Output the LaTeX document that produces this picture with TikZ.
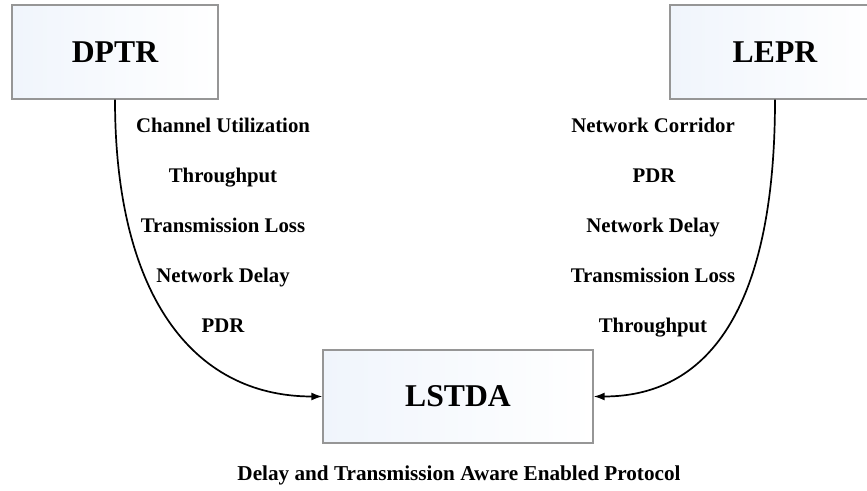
\documentclass[tikz,border=0pt]{standalone}
\usepackage{fontspec}
\setmainfont{Liberation Serif}
\usetikzlibrary{arrows.meta}
\begin{document}
\begin{tikzpicture}[x=1pt,y=-1pt,
  boxnode/.style={draw={rgb,255:red,150;green,150;blue,150}, line width=1.3pt,
    left color={rgb,255:red,240;green,245;blue,252}, right color=white,
    minimum height=94pt, inner sep=0pt,
    font=\fontsize{31.7}{32}\selectfont\bfseries},
  lbl/.style={anchor=base, inner sep=0pt, font=\fontsize{20.8}{21}\selectfont\bfseries},
  captiontext/.style={anchor=base, inner sep=0pt, font=\fontsize{21.2}{22}\selectfont\bfseries},
  conn/.style={line width=1.7pt, -{Latex[length=11pt,width=8pt]}}
]
\useasboundingbox (0,0) rectangle (867,490);
\node[boxnode, minimum width=206pt] (dptr) at (115,52) {DPTR};
\node[boxnode, minimum width=210pt] (lepr) at (775,52) {LEPR};
\node[boxnode, minimum width=270pt, minimum height=93pt] (lstda) at (458,396.5) {LSTDA};

\node[lbl] (l1) at (223,132) {Channel Utilization};
\node[lbl] (l2) at (223,182) {Throughput};
\node[lbl] (l3) at (223,232) {Transmission Loss};
\node[lbl] (l4) at (223,282) {Network Delay};
\node[lbl] (l5) at (223,332) {PDR};

\node[lbl] (r1) at (653,132) {Network Corridor};
\node[lbl] (r2) at (654,182) {PDR};
\node[lbl] (r3) at (653,232) {Network Delay};
\node[lbl] (r4) at (653,282) {Transmission Loss};
\node[lbl] (r5) at (653,332) {Throughput};

\node[captiontext] (caption) at (459,480) {Delay and Transmission Aware Enabled Protocol};

\draw[conn] (dptr.south) .. controls +(0,192) and +(-132,0) .. (lstda.west);
\draw[conn] (lepr.south) .. controls +(0,200) and +(120,0) .. (lstda.east);
\end{tikzpicture}
\end{document}
